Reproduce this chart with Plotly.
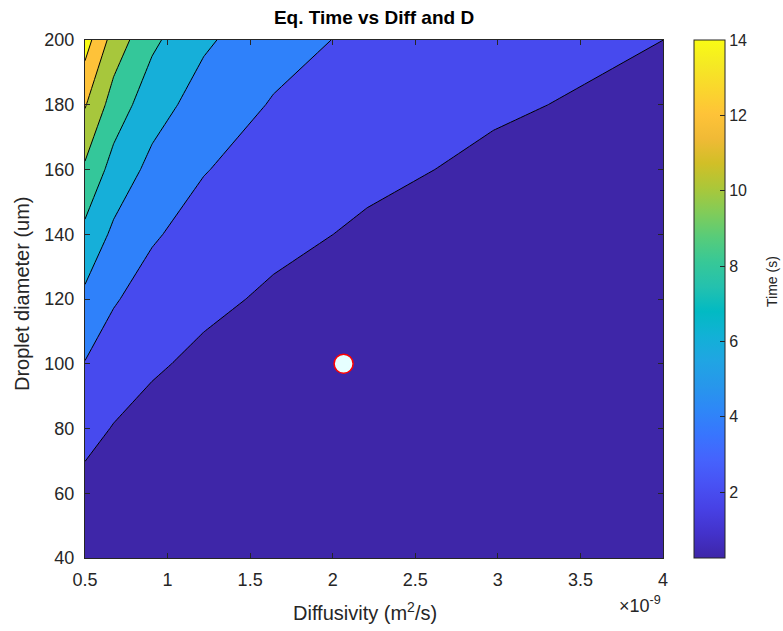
import plotly.graph_objects as go

# ---------------- data ----------------
diffusivity_e9 = [0.5, 0.673, 0.906, 1.219, 1.641, 2.208, 2.972, 4.0]   # x 1e-9 m^2/s
diameter_um = [40, 60, 80, 100, 120, 140, 160, 180, 200]
eq_time_s = [
    [0.672, 0.504, 0.379, 0.284, 0.213, 0.160, 0.120, 0.090],
    [1.467, 1.101, 0.827, 0.621, 0.466, 0.350, 0.263, 0.197],
    [2.552, 1.916, 1.438, 1.080, 0.811, 0.609, 0.457, 0.343],
    [3.920, 2.943, 2.209, 1.659, 1.245, 0.935, 0.702, 0.527],
    [5.567, 4.179, 3.137, 2.356, 1.768, 1.328, 0.997, 0.749],
    [7.491, 5.624, 4.221, 3.170, 2.379, 1.787, 1.342, 1.008],
    [9.682, 7.268, 5.456, 4.097, 3.075, 2.309, 1.734, 1.302],
    [12.144, 9.117, 6.843, 5.139, 3.857, 2.896, 2.175, 1.633],
    [14.876, 11.168, 8.383, 6.296, 4.725, 3.548, 2.664, 2.001],
]
level_start, level_end, level_step = 2, 14, 2
cbar_min, cbar_max = 0.25, 14
cbar_ticks = [2, 4, 6, 8, 10, 12, 14]
point_diff_e9 = [2.066]
point_diam_um = [100]

# ---------------- styles ----------------
parula = [
    (0.2422, 0.1504, 0.6603), (0.2647, 0.1978, 0.7952), (0.2783, 0.2559, 0.8991),
    (0.2810, 0.3228, 0.9579), (0.2699, 0.3892, 0.9906), (0.2206, 0.4603, 0.9973),
    (0.1786, 0.5289, 0.9682), (0.1540, 0.5902, 0.9218), (0.1248, 0.6459, 0.8883),
    (0.0689, 0.6948, 0.8394), (0.0067, 0.7312, 0.7660), (0.1408, 0.7584, 0.6842),
    (0.2161, 0.7843, 0.5923), (0.3406, 0.8008, 0.4789), (0.5044, 0.7993, 0.3480),
    (0.6720, 0.7793, 0.2227), (0.8203, 0.7498, 0.1535), (0.9393, 0.7288, 0.2100),
    (0.9970, 0.7659, 0.2199), (0.9786, 0.8386, 0.1766), (0.9597, 0.9135, 0.1423),
    (0.9769, 0.9839, 0.0805),
]
n = len(parula)
parula_scale = [[i / (n - 1), "rgb(%d,%d,%d)" % tuple(round(c * 255) for c in col)]
                for i, col in enumerate(parula)]

band_colors = ["rgb(62,38,168)", "rgb(71,74,238)", "rgb(47,129,250)", "rgb(22,175,217)",
               "rgb(52,199,154)", "rgb(167,199,60)", "rgb(254,194,57)", "rgb(249,251,21)"]
nb = len(band_colors)
band_scale = [[i / (nb - 1), c] for i, c in enumerate(band_colors)]

axis_color = "#262626"
font_family = "Liberation Sans, Arial, sans-serif"

# plot area in pixels
PL, PR, PT, PB = 85, 663, 40, 558
PW, PH = PR - PL, PB - PT


def px_x(px):
    return (px - PL) / PW


def px_y(py):
    return (PB - py) / PH


fig = go.Figure()

fig.add_trace(go.Contour(
    x=diffusivity_e9, y=diameter_um, z=eq_time_s,
    colorscale=band_scale, showscale=False,
    contours=dict(start=level_start, end=level_end, size=level_step, coloring="fill"),
    line=dict(color="black", width=1, smoothing=0),
    hoverinfo="skip",
))

# colour bar (continuous parula)
fig.add_trace(go.Scatter(
    x=point_diff_e9, y=point_diam_um, mode="markers",
    marker=dict(size=1, opacity=0, color=[cbar_min], cmin=cbar_min, cmax=cbar_max,
                colorscale=parula_scale, showscale=True,
                colorbar=dict(
                    x=px_x(694), xanchor="left", xpad=0, ypad=0,
                    y=0.5, yanchor="middle", len=1, lenmode="fraction",
                    thickness=31, thicknessmode="pixels",
                    outlinecolor=axis_color, outlinewidth=1,
                    tickvals=cbar_ticks, ticks="inside", ticklen=5,
                    tickcolor=axis_color,
                    tickfont=dict(family=font_family, size=16, color=axis_color),
                )),
    hoverinfo="skip", showlegend=False,
))

fig.add_trace(go.Scatter(
    x=point_diff_e9, y=point_diam_um, mode="markers",
    marker=dict(size=19, color="rgb(230,255,255)", line=dict(color="red", width=1.5)),
    showlegend=False,
))

fig.update_layout(
    width=783, height=631,
    margin=dict(l=PL, r=783 - PR, t=PT, b=631 - PB, pad=0, autoexpand=False),
    paper_bgcolor="white", plot_bgcolor="white",
    showlegend=False,
    font=dict(family=font_family, color=axis_color),
    title=dict(text="<b>Eq. Time vs Diff and D</b>", x=374 / 783, xanchor="center",
               y=1 - 17 / 631, yanchor="middle",
               font=dict(family=font_family, size=19, color="black")),
    xaxis=dict(range=[0.5, 4], dtick=0.5, tick0=0.5, ticks="inside", ticklen=5,
               tickcolor=axis_color, showline=True, linecolor=axis_color, linewidth=1,
               mirror="ticks", showgrid=False, zeroline=False,
               tickfont=dict(size=18, color=axis_color), ticklabelstandoff=5),
    yaxis=dict(range=[40, 200], dtick=20, ticks="inside", ticklen=5,
               tickcolor=axis_color, showline=True, linecolor=axis_color, linewidth=1,
               mirror="ticks", showgrid=False, zeroline=False,
               tickfont=dict(size=18, color=axis_color), ticklabelstandoff=6),
    annotations=[
        dict(text="Diffusivity (m<sup>2</sup>/s)", xref="paper", yref="paper",
             x=px_x(364.5), y=px_y(611), xanchor="center", yanchor="middle",
             showarrow=False, font=dict(size=20, color=axis_color)),
        dict(text="Droplet diameter (um)", xref="paper", yref="paper",
             x=px_x(22), y=px_y(294), xanchor="center", yanchor="middle",
             textangle=-90, showarrow=False, font=dict(size=20, color=axis_color)),
        dict(text="\u00d710<sup>-9</sup>", xref="paper", yref="paper",
             x=1.0, y=px_y(604), xanchor="right", yanchor="middle",
             showarrow=False, font=dict(size=18, color=axis_color)),
        dict(text="Time (s)", xref="paper", yref="paper",
             x=px_x(772), y=px_y(281), xanchor="center", yanchor="middle",
             textangle=-90, showarrow=False, font=dict(size=14, color=axis_color)),
    ],
)

fig.write_html("out.html", config={"displayModeBar": False},
               post_script="document.body.style.margin='0px';document.body.style.overflow='hidden';")
